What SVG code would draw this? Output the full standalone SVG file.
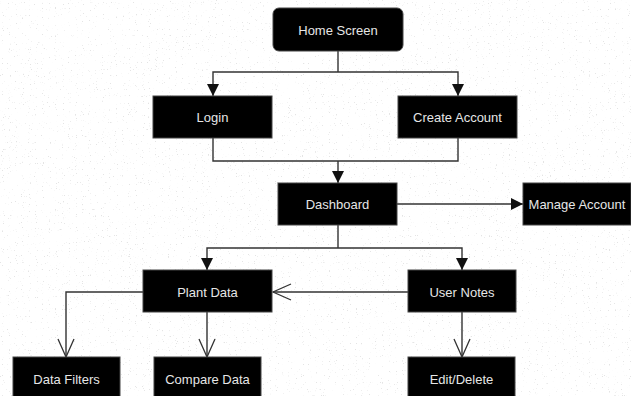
<svg xmlns="http://www.w3.org/2000/svg" width="631" height="396" viewBox="0 0 631 396">
<style>
.box{fill:#000;stroke:#444;stroke-width:1}
.lbl{fill:#e6e6e6;font-family:"Liberation Sans",Arial,sans-serif;font-size:13px;text-anchor:middle;dominant-baseline:central}
.ln{fill:none;stroke:#333;stroke-width:1.4}
</style>
<defs>
<marker id="fa" markerUnits="userSpaceOnUse" markerWidth="12" markerHeight="12" refX="10" refY="5" orient="auto" viewBox="0 0 10 10">
<path d="M0,0 L10,5 L0,10 Z" fill="#111"/>
</marker>
<marker id="oa" markerUnits="userSpaceOnUse" markerWidth="20" markerHeight="20" refX="19" refY="10" orient="auto" viewBox="0 0 20 20">
<path d="M1,2 L19,10 L1,18" fill="none" stroke="#333" stroke-width="1.3"/>
</marker>
<filter id="noise" x="0" y="0" width="100%" height="100%">
<feTurbulence type="fractalNoise" baseFrequency="0.85" numOctaves="1" seed="7" result="t"/>
<feColorMatrix in="t" type="matrix" values="0 0 0 0 0.55  0 0 0 0 0.55  0 0 0 0 0.55  14 0 0 0 -9.4"/>
</filter>
</defs>
<rect width="631" height="396" fill="#fff"/>
<rect width="631" height="396" filter="url(#noise)" opacity="0.45"/>
<g id="connectors">
<path class="ln" d="M338,51 V72"/>
<path class="ln" d="M338,72 H213 V96" marker-end="url(#fa)"/>
<path class="ln" d="M338,72 H458 V96" marker-end="url(#fa)"/>
<path class="ln" d="M213,138 V161 H458 V138"/>
<path class="ln" d="M338,161 V183" marker-end="url(#fa)"/>
<path class="ln" d="M397,204 H523" marker-end="url(#fa)"/>
<path class="ln" d="M338,225 V248"/>
<path class="ln" d="M338,248 H207 V270" marker-end="url(#fa)"/>
<path class="ln" d="M338,248 H462 V270" marker-end="url(#fa)"/>
<path class="ln" d="M408,292 H273" marker-end="url(#oa)"/>
<path class="ln" d="M143,292 H66 V357" marker-end="url(#oa)"/>
<path class="ln" d="M207,312 V357" marker-end="url(#oa)"/>
<path class="ln" d="M462,312 V357" marker-end="url(#oa)"/>
</g>
<g id="home"><rect class="box" x="273" y="8" width="130" height="43" rx="6"/><text class="lbl" x="338" y="30">Home Screen</text></g>
<g id="login"><rect class="box" x="153" y="96" width="119" height="42"/><text class="lbl" x="212.5" y="117">Login</text></g>
<g id="create"><rect class="box" x="398" y="96" width="119" height="42"/><text class="lbl" x="457.5" y="117">Create Account</text></g>
<g id="dashboard"><rect class="box" x="278" y="183" width="119" height="42"/><text class="lbl" x="337.5" y="204">Dashboard</text></g>
<g id="manage"><rect class="box" x="523" y="183" width="108" height="42"/><text class="lbl" x="577" y="204">Manage Account</text></g>
<g id="plant"><rect class="box" x="143" y="270" width="129" height="42"/><text class="lbl" x="207.5" y="292">Plant Data</text></g>
<g id="notes"><rect class="box" x="408" y="270" width="108" height="42"/><text class="lbl" x="462" y="292">User Notes</text></g>
<g id="filters"><rect class="box" x="13" y="357" width="107" height="42"/><text class="lbl" x="66.5" y="379">Data Filters</text></g>
<g id="compare"><rect class="box" x="154" y="357" width="107" height="42"/><text class="lbl" x="207.5" y="379">Compare Data</text></g>
<g id="edit"><rect class="box" x="408" y="357" width="107" height="42"/><text class="lbl" x="461.5" y="379">Edit/Delete</text></g>
</svg>
